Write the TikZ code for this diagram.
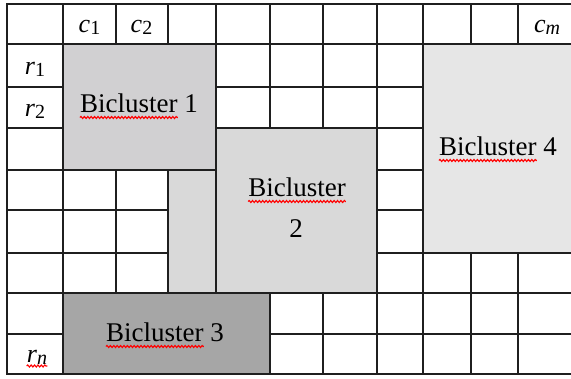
\documentclass[tikz,border=0pt]{standalone}
\usepackage{fontspec}
\setmainfont{Liberation Serif}
\usetikzlibrary{decorations.pathmorphing}
\definecolor{bcone}{HTML}{D1D0D2}
\definecolor{bctwo}{HTML}{D9D9D9}
\definecolor{bcthree}{HTML}{A6A6A6}
\definecolor{bcfour}{HTML}{E6E6E6}
\newcommand\myidx[2]{\textit{#1}\raisebox{-2pt}{\fontsize{20}{20}\selectfont #2}}
\begin{document}
\begin{tikzpicture}[x=1pt,y=-1pt,
  gridline/.style={line width=1.3pt, draw=black!88, line cap=rect},
  bcbox/.style={line width=1.3pt, draw=black!88},
  bclabel/.style={inner sep=0pt, anchor=base, font=\fontsize{27}{41}\selectfont},
  idxlabel/.style={inner sep=0pt, anchor=base, font=\fontsize{26}{30}\selectfont},
  spell/.style={draw=red, line width=1.1pt, decorate, decoration={snake, amplitude=1pt, segment length=3.4pt}}]
\useasboundingbox (0,0) rectangle (571,379);
\fill[white] (0,0) rectangle (571,379);
% grid
\foreach \y in {4,44,87,128,170,210,253,293,334,374}
  \draw[gridline] (7,\y) -- (572,\y);
\foreach \x in {7,63,116,168,216,270,323,377,423,471,518}
  \draw[gridline] (\x,4) -- (\x,374);
% biclusters
\draw[bcbox, fill=bcone] (63,44) rectangle (216,170);
\draw[bcbox, fill=bctwo] (168,170) rectangle (216,293);
\draw[bcbox, fill=bctwo] (216,128) rectangle (377,293);
\draw[bcbox, fill=bcfour] (423,44) rectangle (573,253);
\draw[bcbox, fill=bcthree] (63,293) rectangle (270,374);
% labels
\node[bclabel] (b1) at (139,113) {Bicluster 1};
\node[bclabel] (b2) at (297,197) {Bicluster};
\node[bclabel] (b2n) at (296,238) {2};
\node[bclabel] (b3) at (165,342) {Bicluster 3};
\node[bclabel] (b4) at (498,156) {Bicluster 4};
% spell-check underlines
\draw[spell] ([yshift=-4.5pt]b1.base west) -- ++(98,0);
\draw[spell] ([yshift=-4.5pt]b2.base west) -- ([yshift=-4.5pt]b2.base east);
\draw[spell] ([yshift=-4.5pt]b3.base west) -- ++(98,0);
\draw[spell] ([yshift=-4.5pt]b4.base west) -- ++(98,0);
% index labels
\node[idxlabel] (c1) at (89.5,33) {\myidx{c}{1}};
\node[idxlabel] (c2) at (141.5,33) {\myidx{c}{2}};
\node[idxlabel] (cm) at (547,33) {\myidx{c}{\textit{m}}};
\node[idxlabel] (r1) at (35,75) {\myidx{r}{1}};
\node[idxlabel] (r2) at (35,117) {\myidx{r}{2}};
\node[idxlabel] (rn) at (37,363) {\myidx{r}{\textit{n}}};
\draw[spell] ([yshift=-3pt]rn.base west) -- ([yshift=-3pt]rn.base east);
\end{tikzpicture}
\end{document}
